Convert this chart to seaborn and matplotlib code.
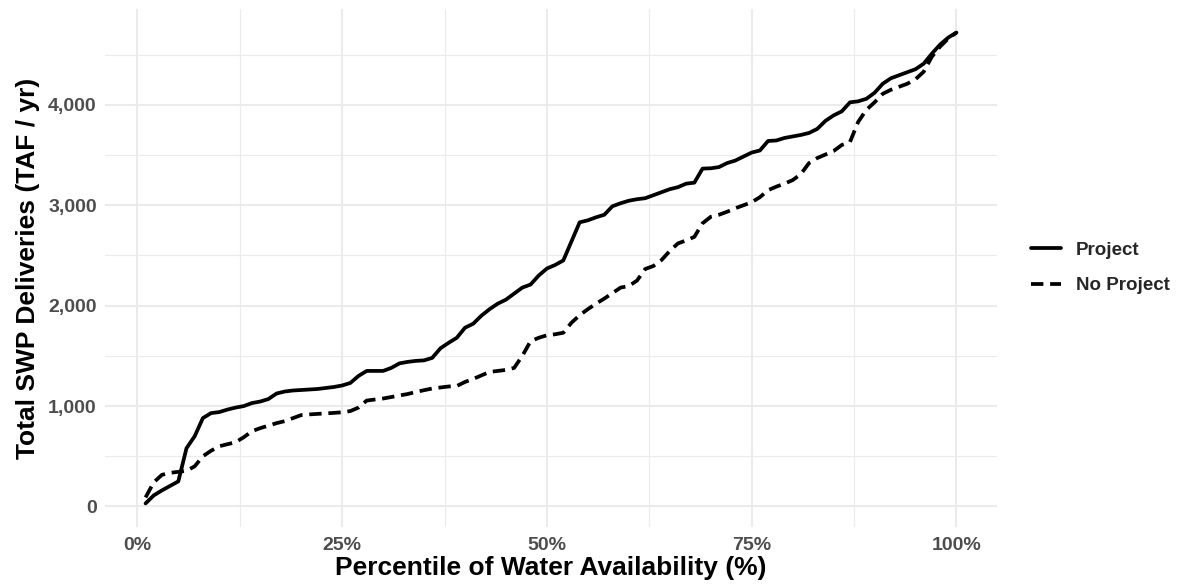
import numpy as np
import pandas as pd
import matplotlib
matplotlib.use("Agg")
import matplotlib.pyplot as plt
from matplotlib.ticker import FuncFormatter, MultipleLocator
import seaborn as sns

# ---- data ----
percentile = list(range(1, 101))
project = [30, 110, 160, 205, 250, 580, 700, 880, 930, 940,
           965, 985, 1000, 1030, 1045, 1070, 1125, 1145, 1155, 1160,
           1165, 1170, 1180, 1190, 1205, 1230, 1300, 1350, 1350, 1350,
           1380, 1425, 1440, 1450, 1455, 1480, 1575, 1630, 1680, 1780,
           1820, 1900, 1965, 2020, 2060, 2120, 2180, 2210, 2300, 2370,
           2405, 2450, 2640, 2830, 2850, 2880, 2905, 2990, 3020, 3045,
           3060, 3070, 3100, 3130, 3160, 3180, 3215, 3225, 3365, 3368,
           3380, 3420, 3445, 3485, 3525, 3545, 3640, 3645, 3670, 3685,
           3700, 3720, 3760, 3840, 3895, 3935, 4025, 4035, 4060, 4120,
           4210, 4265, 4295, 4325, 4355, 4410, 4510, 4600, 4670, 4720]
no_project = [90, 240, 315, 335, 345, 355, 400, 500, 555, 600,
              620, 640, 690, 750, 780, 805, 830, 850, 880, 910,
              917, 922, 927, 932, 938, 950, 985, 1055, 1065, 1075,
              1090, 1105, 1120, 1140, 1158, 1175, 1185, 1195, 1200, 1240,
              1270, 1305, 1340, 1350, 1360, 1380, 1500, 1645, 1680, 1705,
              1715, 1730, 1830, 1905, 1965, 2020, 2070, 2125, 2180, 2195,
              2250, 2365, 2395, 2455, 2545, 2620, 2650, 2685, 2820, 2885,
              2905, 2935, 2970, 3000, 3030, 3080, 3150, 3185, 3215, 3250,
              3310, 3420, 3470, 3505, 3540, 3600, 3630, 3830, 3950, 4025,
              4110, 4150, 4180, 4210, 4255, 4330, 4480, 4580, 4660, 4720]
series_names = ["Project", "No Project"]
x_ticks = [0, 25, 50, 75, 100]
y_ticks = [0, 1000, 2000, 3000, 4000]

df = pd.concat([
    pd.DataFrame({"pct": percentile, "val": project, "Scenario": series_names[0]}),
    pd.DataFrame({"pct": percentile, "val": no_project, "Scenario": series_names[1]}),
], ignore_index=True)

sns.set_theme(style="whitegrid")
plt.rcParams["font.family"] = ["Liberation Sans", "DejaVu Sans"]

W, H = 1183, 586
fig = plt.figure(figsize=(W / 100, H / 100), dpi=100)
ax = fig.add_axes([105 / W, 1 - 527 / H, (997 - 105) / W, (527 - 9) / H])
ax.set_facecolor("white")

lw = 2.7
sns.lineplot(data=df, x="pct", y="val", style="Scenario",
             style_order=series_names,
             dashes={"Project": "", "No Project": (3.3, 1.8)},
             color="black", linewidth=lw, legend=False, ax=ax,
             errorbar=None)

# ggplot-like expansion (5%)
xmin, xmax = min(percentile), max(percentile)
xr = xmax - xmin
ymin = min(min(project), min(no_project))
ymax = max(max(project), max(no_project))
yr = ymax - ymin
ax.set_xlim(xmin - 0.05 * xr, xmax + 0.05 * xr)
ax.set_ylim(ymin - 0.05 * yr, ymax + 0.05 * yr)

ax.set_xticks(x_ticks)
ax.set_yticks(y_ticks)
ax.xaxis.set_minor_locator(MultipleLocator(12.5))
ax.yaxis.set_minor_locator(MultipleLocator(500))
ax.xaxis.set_major_formatter(FuncFormatter(lambda v, p: f"{int(v)}%"))
ax.yaxis.set_major_formatter(FuncFormatter(lambda v, p: f"{int(v):,}"))

ax.grid(which="major", color="#EBEBEB", linewidth=1.5)
ax.grid(which="minor", color="#EBEBEB", linewidth=0.8)
ax.set_axisbelow(True)
for s in ax.spines.values():
    s.set_visible(False)
ax.tick_params(which="both", length=0)
ax.tick_params(axis="x", labelsize=14, labelcolor="#4D4D4D", pad=7)
ax.tick_params(axis="y", labelsize=14, labelcolor="#4D4D4D", pad=6)
for lab in ax.get_xticklabels() + ax.get_yticklabels():
    lab.set_fontweight("bold")

ax.set_xlabel("Percentile of Water Availability (%)", fontsize=19,
              fontweight="bold", color="black", labelpad=2)
ax.set_ylabel("Total SWP Deliveries (TAF / yr)", fontsize=19,
              fontweight="bold", color="black", labelpad=6)

handles = [ax.lines[0], ax.lines[1]]
leg = fig.legend(handles, series_names, loc="center left",
                 bbox_to_anchor=(1031 / W, 1 - 268 / H),
                 frameon=False, fontsize=13.5, handlelength=1.6,
                 handletextpad=0.8, labelspacing=1.0,
                 borderpad=0, borderaxespad=0)
for t in leg.get_texts():
    t.set_fontweight("bold")

fig.savefig("out.png", dpi=100)
